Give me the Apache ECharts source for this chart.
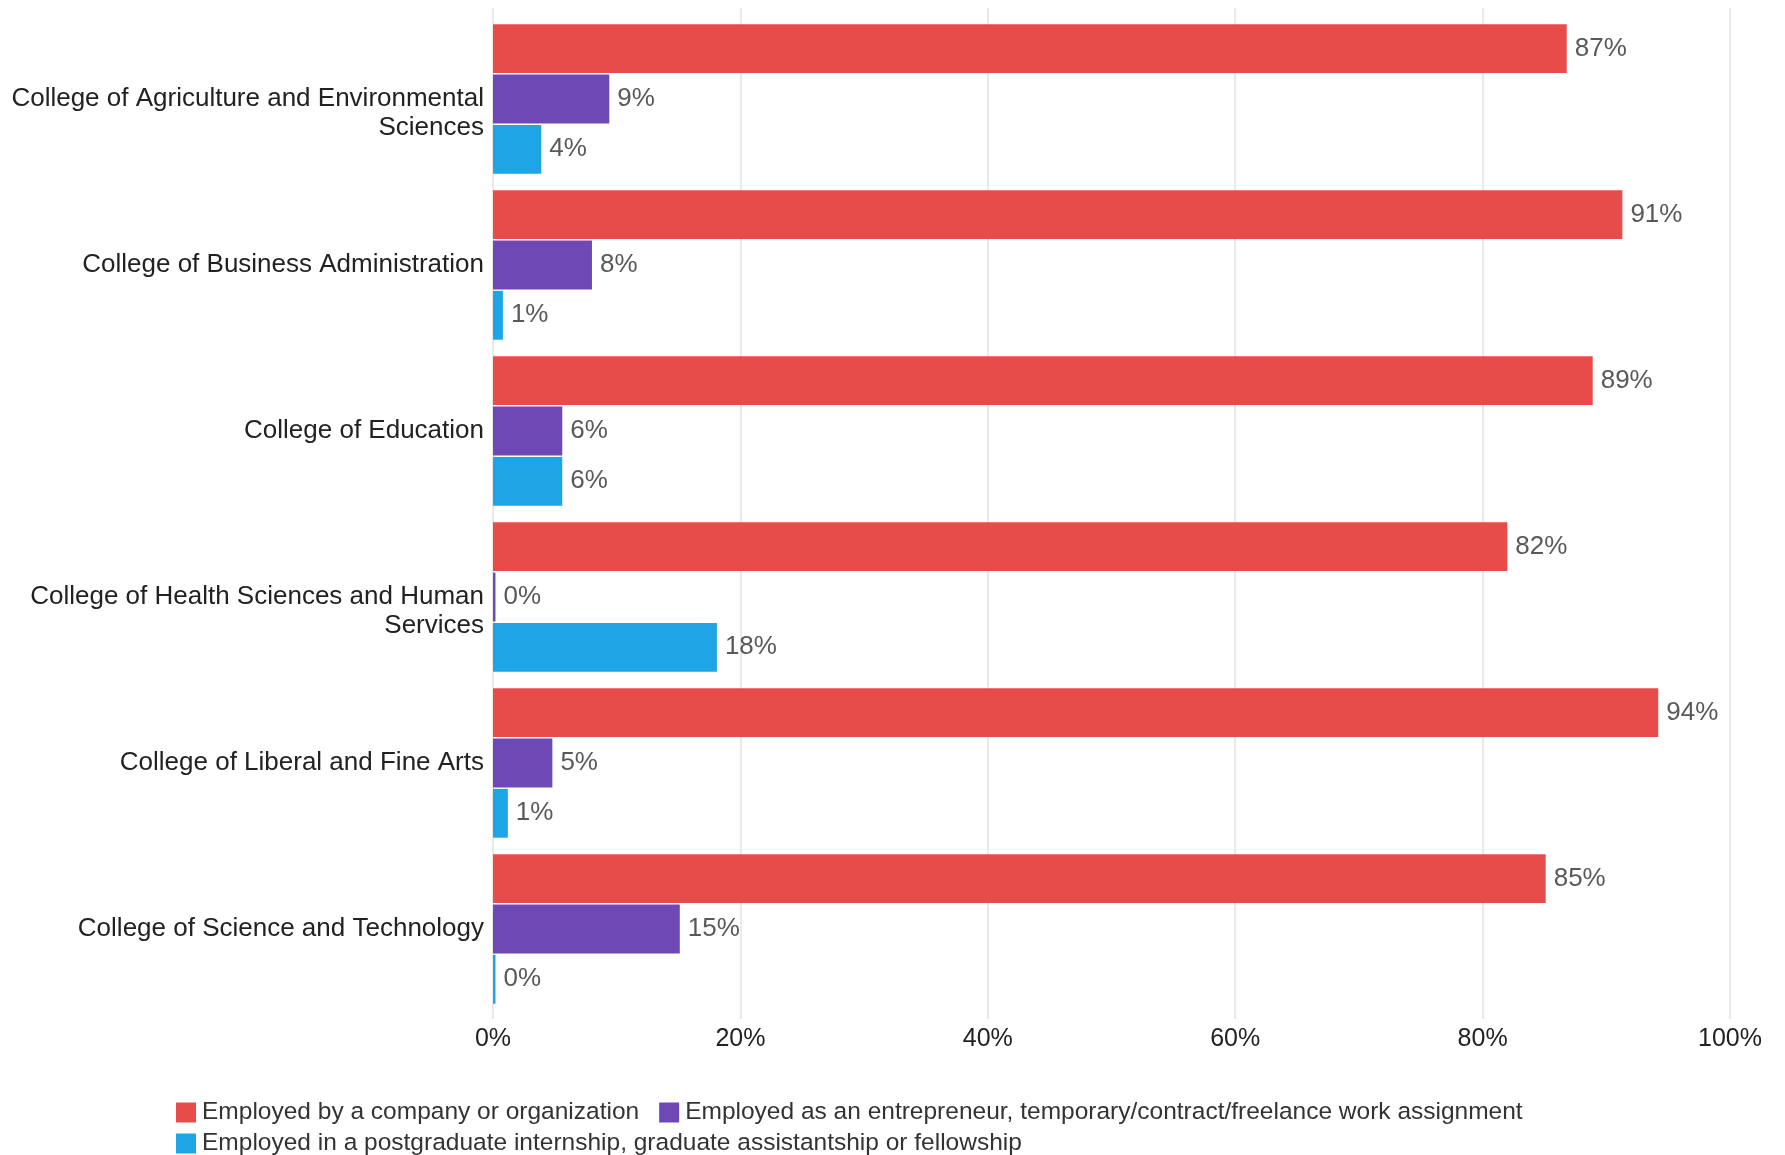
<!DOCTYPE html>
<html>
<head>
<meta charset="utf-8">
<script src="https://cdn.jsdelivr.net/npm/echarts@6/dist/echarts.min.js"></script>
<style>
html,body{margin:0;padding:0;background:#fff;}
#chart{width:1785px;height:1155px;}
</style>
</head>
<body>
<div id="chart"></div>
<script>
const categories = [
  "College of Agriculture and Environmental Sciences",
  "College of Business Administration",
  "College of Education",
  "College of Health Sciences and Human Services",
  "College of Liberal and Fine Arts",
  "College of Science and Technology"
];
const seriesNames = [
  "Employed by a company or organization",
  "Employed as an entrepreneur, temporary/contract/freelance work assignment",
  "Employed in a postgraduate internship, graduate assistantship or fellowship"
];
const companyValues = [86.8, 91.3, 88.9, 82.0, 94.2, 85.1];
const entrepreneurValues = [9.4, 8.0, 5.6, 0.2, 4.8, 15.1];
const internshipValues = [3.9, 0.8, 5.6, 18.1, 1.2, 0.2];
const xTicks = [0, 20, 40, 60, 80, 100];
const colors = ["#E84C4A", "#6E48B4", "#1DA5E6"];

const FONT = '"Liberation Sans", Arial, Helvetica, sans-serif';
const CAT_FONT_SIZE = 26;
const CAT_MAX_W = 480;

const measureCtx = document.createElement('canvas').getContext('2d');
measureCtx.font = CAT_FONT_SIZE + 'px ' + FONT;
function wrapCategory(text) {
  if (measureCtx.measureText(text).width <= CAT_MAX_W) return text;
  const words = text.split(' ');
  let line = '';
  const lines = [];
  words.forEach(w => {
    const t = line ? line + ' ' + w : w;
    if (measureCtx.measureText(t).width > CAT_MAX_W && line) {
      lines.push(line);
      line = w;
    } else {
      line = t;
    }
  });
  if (line) lines.push(line);
  // first line sits on the tick, following lines hang below it
  return '\n' + lines.join('\n');
}

const chart = echarts.init(document.getElementById('chart'));

function mkSeries(name, data, color) {
  return {
    name: name,
    type: 'bar',
    xAxisIndex: 1,
    yAxisIndex: 1,
    data: data,
    itemStyle: { color: color },
    barCategoryGap: '10%',
    barGap: '3%',
    label: {
      show: true,
      position: 'right',
      distance: 8,
      color: '#595959',
      fontSize: 26,
      fontFamily: FONT,
      formatter: p => Math.round(p.value) + '%'
    },
    emphasis: { disabled: true }
  };
}

const legendText = { fontSize: 24.5, color: '#333', fontFamily: FONT, padding: [0, 0, 0, 1] };

chart.setOption({
  backgroundColor: '#ffffff',
  animation: false,
  textStyle: { fontFamily: FONT },
  grid: [
    { left: 493, right: 55, top: 8, bottom: 136, containLabel: false },
    { left: 493, right: 55, top: 16, bottom: 143, containLabel: false }
  ],
  legend: [
    {
      data: [seriesNames[0], seriesNames[1]],
      left: 176, top: 1100, padding: 0,
      icon: 'rect', itemWidth: 20, itemHeight: 20, itemGap: 20,
      textStyle: legendText,
      selectedMode: false
    },
    {
      data: [seriesNames[2]],
      left: 176, top: 1131, padding: 0,
      icon: 'rect', itemWidth: 20, itemHeight: 20, itemGap: 20,
      textStyle: legendText,
      selectedMode: false
    }
  ],
  xAxis: [
    {
      gridIndex: 0,
      type: 'value',
      min: xTicks[0],
      max: xTicks[xTicks.length - 1],
      interval: xTicks[1] - xTicks[0],
      axisLine: { show: false },
      axisTick: { show: false },
      splitLine: { show: true, lineStyle: { color: '#e2e2e2', width: 1.5 } },
      axisLabel: {
        formatter: '{value}%',
        fontSize: 25,
        color: '#222',
        margin: 8,
        fontFamily: FONT
      }
    },
    {
      gridIndex: 1,
      type: 'value',
      min: xTicks[0],
      max: xTicks[xTicks.length - 1],
      interval: xTicks[1] - xTicks[0],
      show: false
    }
  ],
  yAxis: [
    {
      gridIndex: 0,
      type: 'value',
      show: false
    },
    {
      gridIndex: 1,
      type: 'category',
      data: categories,
      inverse: true,
      axisLine: { show: false },
      axisTick: { show: false },
      splitLine: { show: false },
      axisLabel: {
        fontSize: CAT_FONT_SIZE,
        color: '#222',
        margin: 9,
        lineHeight: 29,
        align: 'right',
        fontFamily: FONT,
        formatter: v => wrapCategory(v)
      }
    }
  ],
  series: [
    mkSeries(seriesNames[0], companyValues, colors[0]),
    mkSeries(seriesNames[1], entrepreneurValues, colors[1]),
    mkSeries(seriesNames[2], internshipValues, colors[2])
  ]
});
</script>
</body>
</html>
